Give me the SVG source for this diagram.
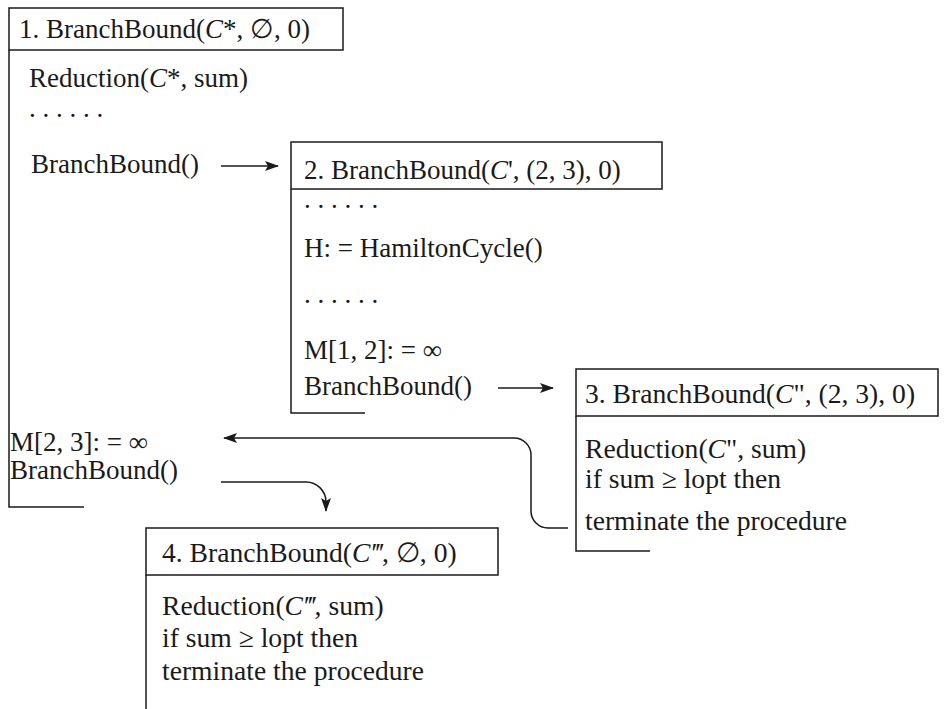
<svg xmlns="http://www.w3.org/2000/svg" width="945" height="709" viewBox="0 0 945 709">
<defs>
<marker id="ah" viewBox="0 0 14 10" refX="13" refY="5" markerWidth="14" markerHeight="10" markerUnits="userSpaceOnUse" orient="auto">
<path d="M0,0 L14,5 L0,10 L3,5 Z" fill="#1a1a1a"/>
</marker>
</defs>
<style>
text{font-family:"Liberation Serif","Times New Roman",serif;font-size:27px;fill:#1a1a1a}
.b{font-size:27.6px}
.i{font-style:italic}
.box{fill:none;stroke:#1a1a1a;stroke-width:1.5}
.ln{fill:none;stroke:#1a1a1a;stroke-width:1.5}
.con{fill:none;stroke:#1a1a1a;stroke-width:1.5;marker-end:url(#ah)}
</style>
<rect width="945" height="709" fill="#fff"/>
<g id="node1">
<rect class="box" x="9" y="8" width="334" height="42"/>
<path class="ln" d="M9,50 V507 H84"/>
<text x="19" y="38">1. BranchBound(<tspan class="i">C</tspan>*, ∅, 0)</text>
<text x="29" y="87">Reduction(<tspan class="i">C</tspan>*, sum)</text>
<text x="29" y="117">. . . . . .</text>
<text x="31" y="173">BranchBound()</text>
<text x="10" y="451">M[2, 3]: = ∞</text>
<text x="10" y="479">BranchBound()</text>
</g>
<g id="node2">
<rect class="box" x="291" y="142" width="371" height="47"/>
<path class="ln" d="M291,189 V413 H365"/>
<text x="304" y="179">2. BranchBound(<tspan class="i">C</tspan>', (2, 3), 0)</text>
<text x="304" y="208">. . . . . .</text>
<text x="304" y="257">H: = HamiltonCycle()</text>
<text x="304" y="303">. . . . . .</text>
<text x="304" y="359">M[1, 2]: = ∞</text>
<text x="304" y="395">BranchBound()</text>
</g>
<g id="node3">
<rect class="box" x="576" y="369" width="362" height="47"/>
<path class="ln" d="M576,416 V551 H650"/>
<text class="b" x="585" y="403">3. BranchBound(<tspan class="i">C</tspan>", (2, 3), 0)</text>
<text class="b" x="585" y="458">Reduction(<tspan class="i">C</tspan>", sum)</text>
<text class="b" x="585" y="488">if sum ≥ lopt then</text>
<text class="b" x="585" y="530">terminate the procedure</text>
</g>
<g id="node4">
<rect class="box" x="146" y="528" width="352" height="47"/>
<path class="ln" d="M146,575 V709"/>
<text class="b" x="162" y="562">4. BranchBound(<tspan class="i">C‴</tspan>, ∅, 0)</text>
<text class="b" x="162" y="615">Reduction(<tspan class="i">C‴</tspan>, sum)</text>
<text class="b" x="162" y="647">if sum ≥ lopt then</text>
<text class="b" x="162" y="680">terminate the procedure</text>
</g>
<g id="connectors">
<path class="con" d="M221,166 H278"/>
<path class="con" d="M498,388 H553"/>
<path class="con" d="M568,528 H548 A17,17 0 0 1 531,511 V455 A17,17 0 0 0 514,438 H224"/>
<path class="con" d="M221,482 H306 A20,20 0 0 1 326,502 V511"/>
</g>
</svg>
